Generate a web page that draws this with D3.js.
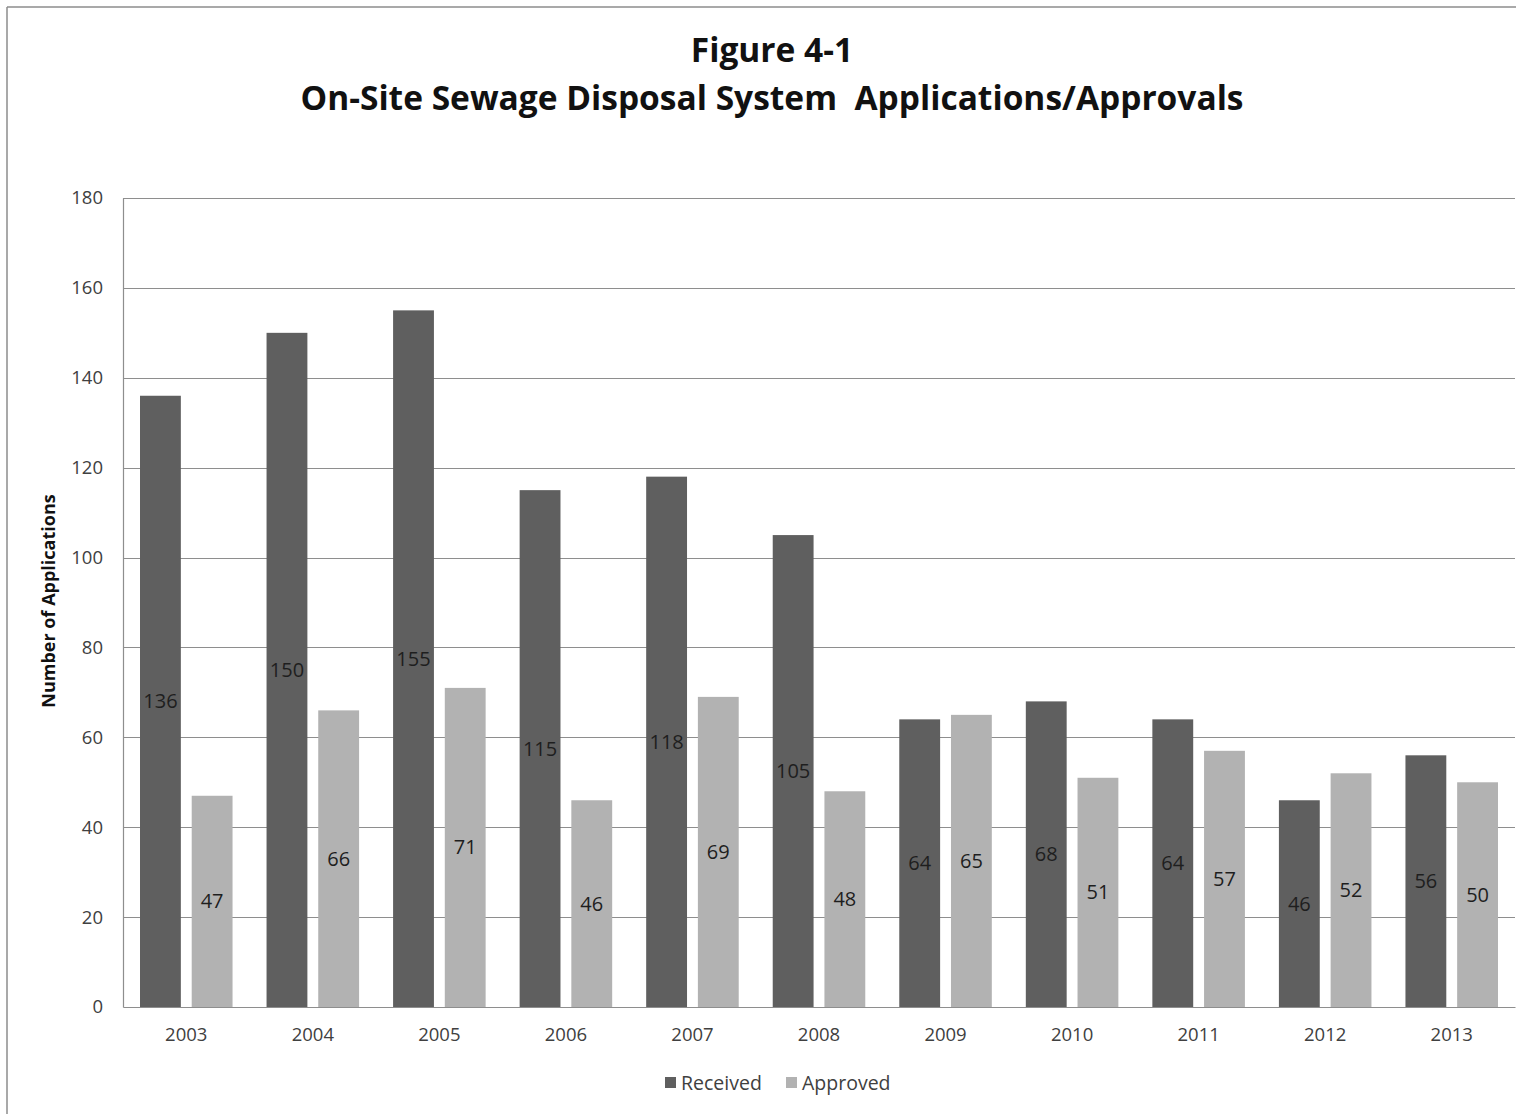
<!DOCTYPE html>
<html>
<head>
<meta charset="utf-8">
<script src="https://d3js.org/d3.v7.min.js"></script>
<style>
  body { margin: 0; background: #fff; }
  svg text { font-family: "Open Sans", "Liberation Sans", sans-serif; }
</style>
</head>
<body>
<svg></svg>
<script>
// chart data
var years = ["2003","2004","2005","2006","2007","2008","2009","2010","2011","2012","2013"];
var received = [136,150,155,115,118,105,64,68,64,46,56];
var approved = [47,66,71,46,69,48,65,51,57,52,50];
var seriesNames = ["Received","Approved"];
var yTicks = [0,20,40,60,80,100,120,140,160,180];

var width = 1526, height = 1114;
var colors = {Received: "#5f5f5f", Approved: "#b2b2b2"};

var svg = d3.select("svg")
  .attr("width", width)
  .attr("height", height);

// outer frame (top and left edges visible)
svg.append("line").attr("x1",7).attr("x2",1516).attr("y1",7).attr("y2",7)
  .attr("stroke","#8c8c8c").attr("stroke-width",1.5);
svg.append("line").attr("x1",7).attr("x2",7).attr("y1",7).attr("y2",height)
  .attr("stroke","#8c8c8c").attr("stroke-width",1.5);

var plotLeft = 123, plotRight = 1515, plotTop = 198, plotBottom = 1007;

var x0 = d3.scaleBand().domain(years).range([plotLeft, plotRight]);
var x1 = d3.scaleBand().domain(seriesNames)
  .range([17, x0.bandwidth() - 17]).paddingInner(0.21);
var y = d3.scaleLinear().domain([0,180]).range([plotBottom, plotTop]);

// gridlines
svg.append("g")
  .selectAll("line")
  .data(yTicks.filter(function(d){ return d > 0; }))
  .enter().append("line")
  .attr("x1", plotLeft).attr("x2", plotRight)
  .attr("y1", function(d){ return Math.round(y(d)) + 0.5; })
  .attr("y2", function(d){ return Math.round(y(d)) + 0.5; })
  .attr("stroke", "#8e8e8e").attr("stroke-width", 1.2);

// y axis
var yAxis = d3.axisLeft(y).tickValues(yTicks).tickSize(0).tickPadding(20);
var gy = svg.append("g").attr("transform","translate(" + plotLeft + ",0)").call(yAxis);
gy.select(".domain").attr("stroke","#8e8e8e").attr("stroke-width",1.2);
gy.selectAll("text").attr("font-size","18.5px").attr("fill","#404040");

// x axis
var xAxis = d3.axisBottom(x0).tickSize(0).tickPadding(21);
var gx = svg.append("g").attr("transform","translate(0," + plotBottom + ")").call(xAxis);
gx.select(".domain").attr("stroke","#8e8e8e").attr("stroke-width",1.2);
gx.selectAll("text").attr("font-size","18.5px").attr("fill","#404040");

// bars
var rows = years.map(function(yr, i){
  return {year: yr, values: [
    {key: "Received", value: received[i]},
    {key: "Approved", value: approved[i]}
  ]};
});

var groups = svg.append("g").selectAll("g")
  .data(rows).enter().append("g")
  .attr("transform", function(d){ return "translate(" + x0(d.year) + ",0)"; });

groups.selectAll("rect")
  .data(function(d){ return d.values; })
  .enter().append("rect")
  .attr("x", function(d){ return x1(d.key); })
  .attr("width", x1.bandwidth())
  .attr("y", function(d){ return y(d.value); })
  .attr("height", function(d){ return plotBottom - y(d.value); })
  .attr("fill", function(d){ return colors[d.key]; });

// value labels in the middle of each bar
groups.selectAll("text.val")
  .data(function(d){ return d.values; })
  .enter().append("text")
  .attr("class","val")
  .attr("x", function(d){ return x1(d.key) + x1.bandwidth()/2; })
  .attr("y", function(d){ return (y(d.value) + plotBottom)/2; })
  .attr("dy","0.35em")
  .attr("text-anchor","middle")
  .attr("font-size","20px")
  .attr("fill","#1e1e1e")
  .text(function(d){ return d.value; });

// titles
svg.append("text").attr("x",772).attr("y",62)
  .attr("text-anchor","middle").attr("font-size","33.5px").attr("font-weight","bold")
  .attr("fill","#111").text("Figure 4-1");
svg.append("text").attr("x",772).attr("y",110)
  .attr("text-anchor","middle").attr("font-size","33.5px").attr("font-weight","bold")
  .attr("fill","#111").attr("xml:space","preserve")
  .text("On-Site Sewage Disposal System  Applications/Approvals");

// y axis title
svg.append("text")
  .attr("transform","translate(55,601) rotate(-90)")
  .attr("text-anchor","middle").attr("font-size","18px").attr("font-weight","bold")
  .attr("fill","#111").text("Number of Applications");

// legend
var legend = svg.append("g").attr("transform","translate(665,1083)");
var lx = [0, 121];
seriesNames.forEach(function(name, i){
  var g = legend.append("g").attr("transform","translate(" + lx[i] + ",0)");
  g.append("rect").attr("x",0).attr("y",-6).attr("width",11).attr("height",11)
    .attr("fill", colors[name]);
  g.append("text").attr("x",16).attr("y",0).attr("dy","0.35em")
    .attr("font-size","19.5px").attr("fill","#404040").text(name);
});
</script>
</body>
</html>
